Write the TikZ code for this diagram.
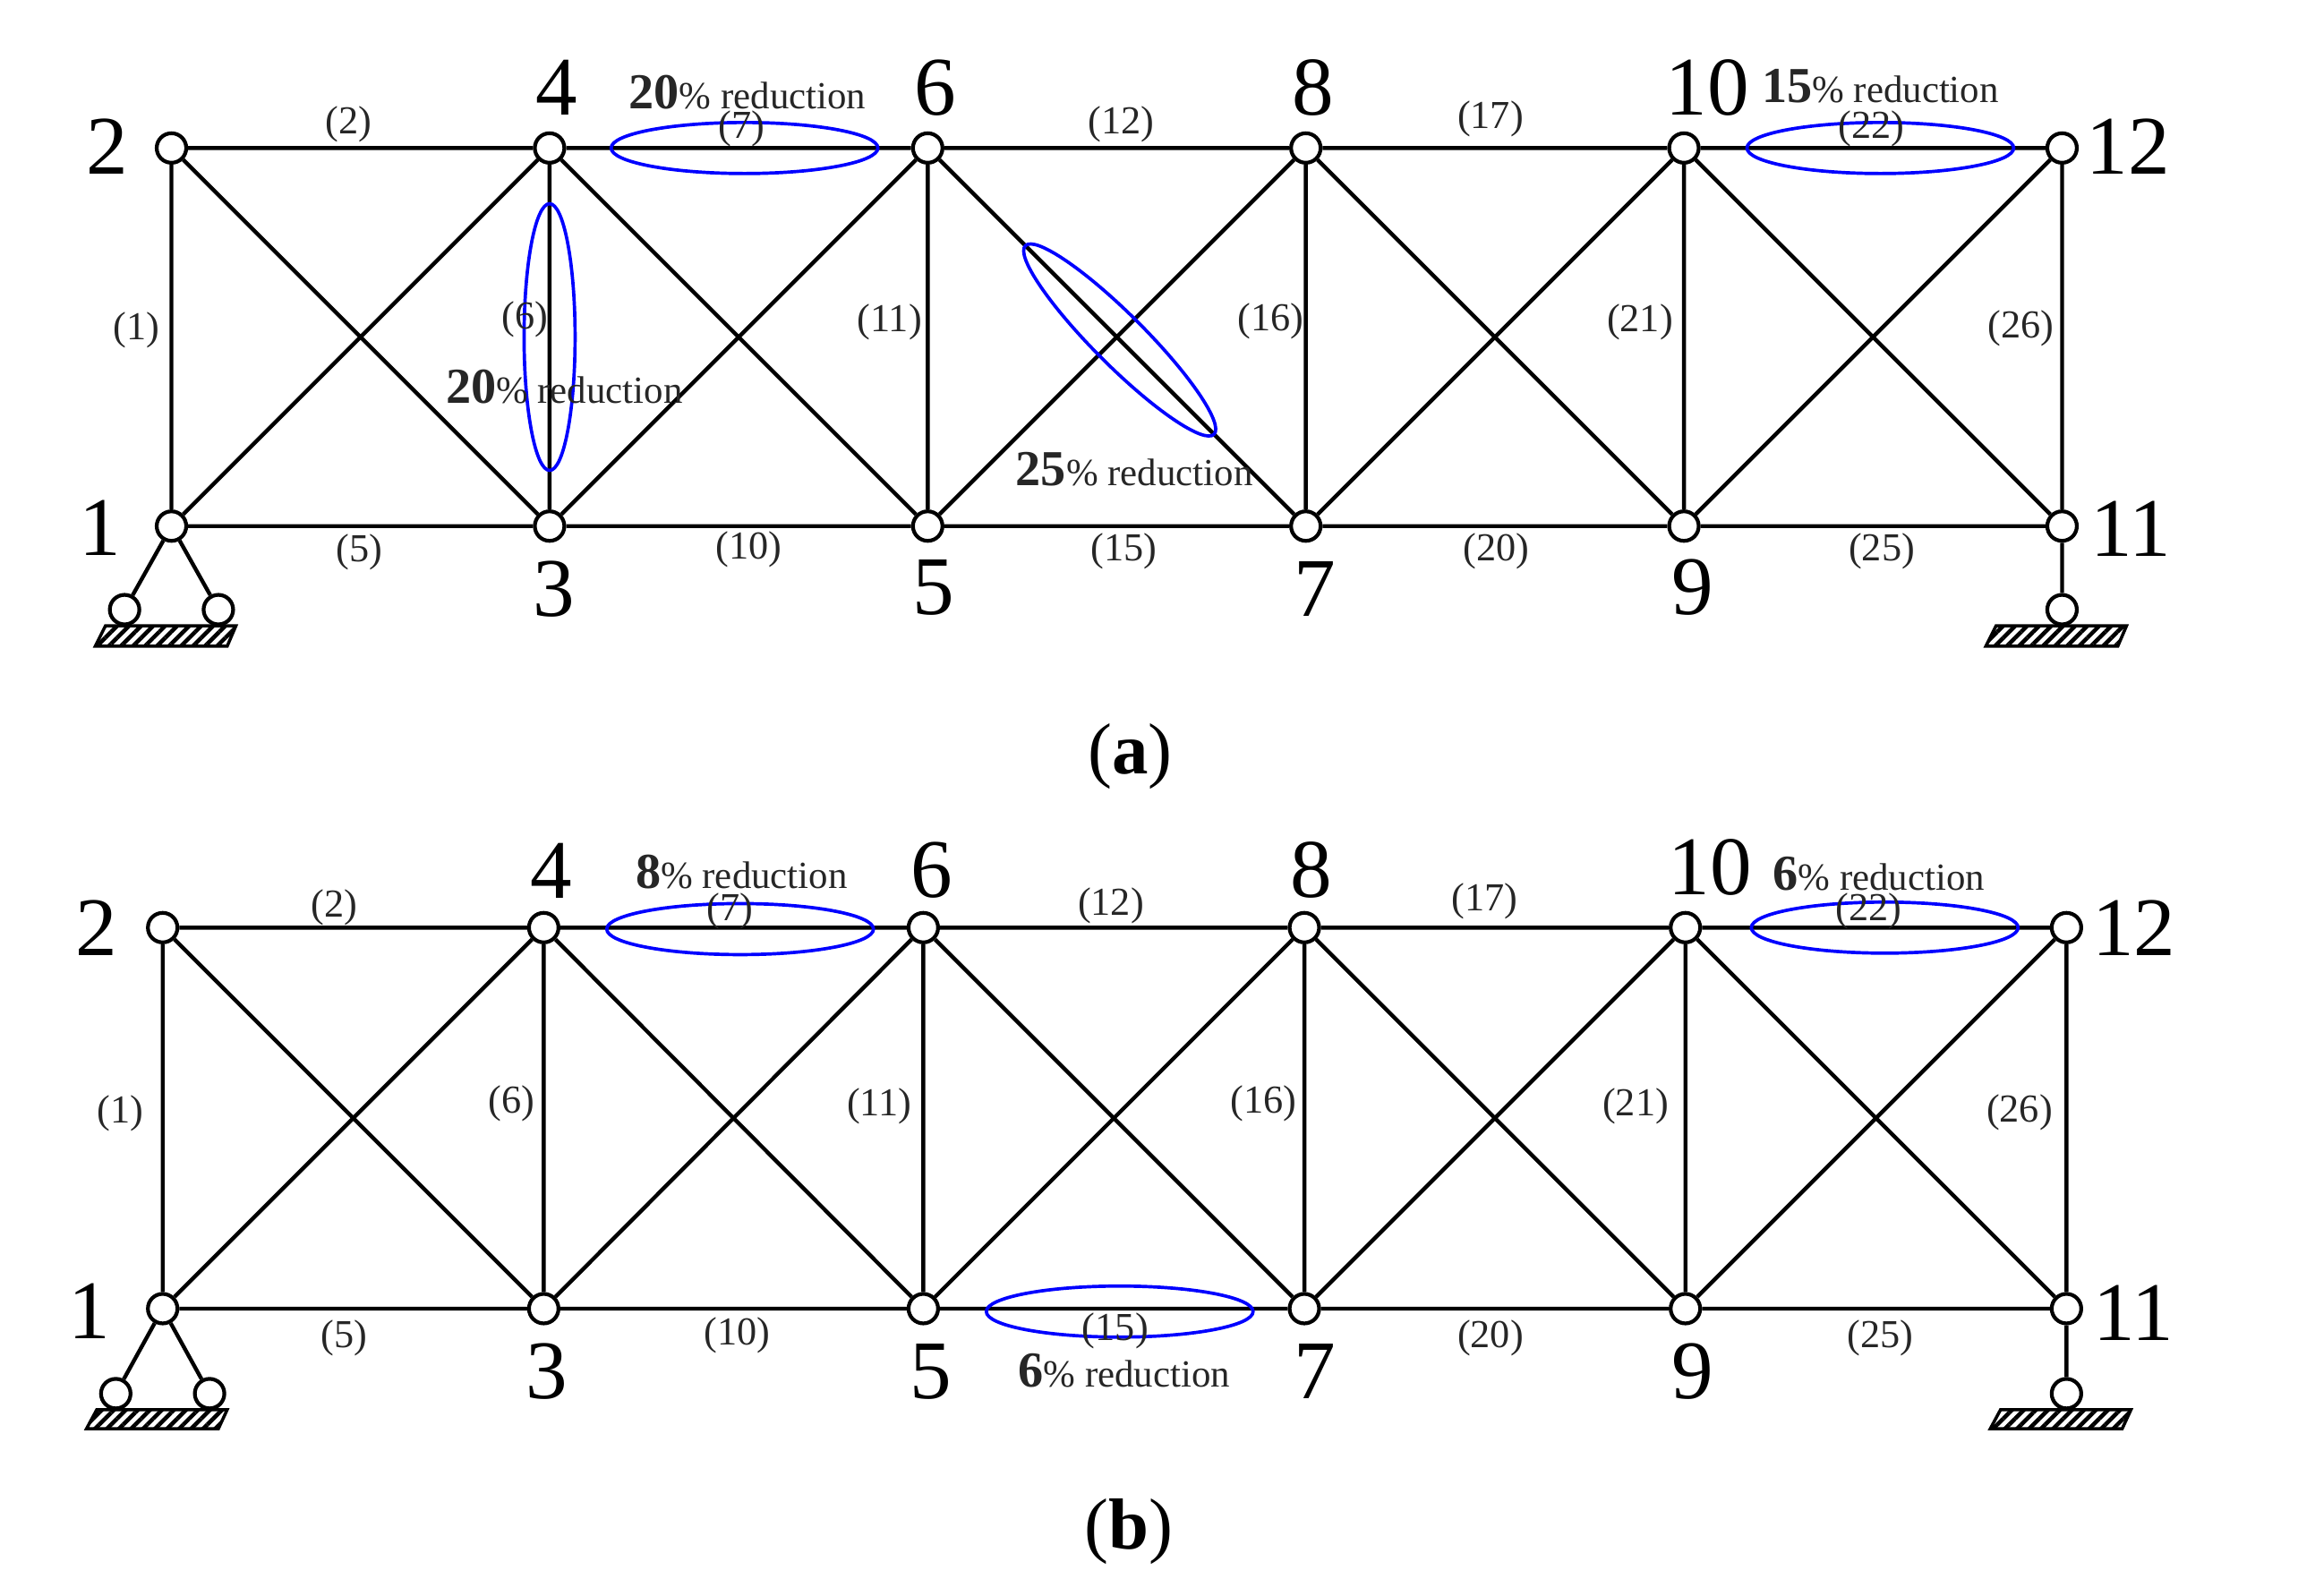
\documentclass[tikz,border=0pt]{standalone}
\usepackage{fontspec}
\setmainfont{Liberation Serif}
\usetikzlibrary{shapes.geometric,patterns.meta}
\tikzset{
	joint/.style={circle,draw,line width=1.2pt,inner sep=0pt,minimum size=0.33cm},
	member/.style={line width=1.25pt},
	jointnum/.style={inner sep=0pt,font=\fontsize{26.5}{26.5}\selectfont},
	memberlbl/.style={inner sep=0pt,text=black!85,font=\fontsize{12.6}{12.6}\selectfont},
	reduct/.style={inner sep=0pt,text=black!85,font=\fontsize{12.2}{12.2}\selectfont},
	ring/.style={ellipse,draw=blue,line width=1.05pt,inner sep=0pt,minimum width=2.98cm,minimum height=0.57cm},
	groundbar/.style={line width=1pt,fill=white,pattern={Lines[angle=45,distance=2.7pt,line width=1.3pt]}},
	caption/.style={inner sep=0pt,font=\fontsize{23}{23}\selectfont}
}
\newcommand{\bignum}[1]{{\fontsize{16}{16}\selectfont\bfseries #1}}
\begin{document}
\begin{tikzpicture}[x=0.01637cm,y=-0.01637cm]
	\useasboundingbox (0,0) rectangle (1568,1089);

	% truss (a)
	\node[joint] (a1) at (117,359) {};
	\node[joint] (a2) at (117,101) {};
	\node[joint] (a3) at (375,359) {};
	\node[joint] (a4) at (375,101) {};
	\node[joint] (a5) at (633,359) {};
	\node[joint] (a6) at (633,101) {};
	\node[joint] (a7) at (891,359) {};
	\node[joint] (a8) at (891,101) {};
	\node[joint] (a9) at (1149,359) {};
	\node[joint] (a10) at (1149,101) {};
	\node[joint] (a11) at (1407,359) {};
	\node[joint] (a12) at (1407,101) {};
	\node[joint] (aL) at (85,416) {};
	\node[joint] (aM) at (149,416) {};
	\node[joint] (aR) at (1407,416) {};

	\draw[member] (a1) -- (a2) (a1) -- (a3) (a1) -- (a4) (a2) -- (a3) (a2) -- (a4);
	\draw[member] (a3) -- (a4) (a3) -- (a5) (a3) -- (a6) (a4) -- (a5) (a4) -- (a6);
	\draw[member] (a5) -- (a6) (a5) -- (a7) (a5) -- (a8) (a6) -- (a7) (a6) -- (a8);
	\draw[member] (a7) -- (a8) (a7) -- (a9) (a7) -- (a10) (a8) -- (a9) (a8) -- (a10);
	\draw[member] (a9) -- (a10) (a9) -- (a11) (a9) -- (a12) (a10) -- (a11) (a10) -- (a12);
	\draw[member] (a11) -- (a12) (a1) -- (aL) (a1) -- (aM) (a11) -- (aR);

	\draw[groundbar] (72,427) -- (161,427) -- (155,441) -- (65,441) -- cycle;
	\draw[groundbar] (1362,427) -- (1451,427) -- (1445,441) -- (1355,441) -- cycle;

	\node[ring] (aring7) at (508,101) {};
	\node[ring] (aring22) at (1283,101) {};
	\node[ring,rotate=90] (aring6) at (375,230) {};
	\node[ring,rotate=-45] (aring13) at (764,232) {};

	\node[jointnum] (anum1) at (68,360) {1};
	\node[jointnum] (anum2) at (73,100) {2};
	\node[jointnum] (anum3) at (378,402) {3};
	\node[jointnum] (anum4) at (380,60) {4};
	\node[jointnum] (anum5) at (637,401) {5};
	\node[jointnum] (anum6) at (638,60) {6};
	\node[jointnum] (anum7) at (897,402) {7};
	\node[jointnum] (anum8) at (896,60) {8};
	\node[jointnum] (anum9) at (1155,401) {9};
	\node[jointnum] (anum10) at (1165,60) {10};
	\node[jointnum] (anum11) at (1454,361) {11};
	\node[jointnum] (anum12) at (1452,100) {12};

	\node[memberlbl] (albl1) at (93,225) {(1)};
	\node[memberlbl] (albl2) at (238,85) {(2)};
	\node[memberlbl] (albl5) at (245,377) {(5)};
	\node[memberlbl] (albl6) at (358,218) {(6)};
	\node[memberlbl] (albl7) at (506,88) {(7)};
	\node[memberlbl] (albl10) at (511,375) {(10)};
	\node[memberlbl] (albl11) at (607,220) {(11)};
	\node[memberlbl] (albl12) at (765,85) {(12)};
	\node[memberlbl] (albl15) at (767,376) {(15)};
	\node[memberlbl] (albl16) at (867,219) {(16)};
	\node[memberlbl] (albl17) at (1017,81) {(17)};
	\node[memberlbl] (albl20) at (1021,376) {(20)};
	\node[memberlbl] (albl21) at (1119,220) {(21)};
	\node[memberlbl] (albl22) at (1277,88) {(22)};
	\node[memberlbl] (albl25) at (1284,376) {(25)};
	\node[memberlbl] (albl26) at (1379,224) {(26)};

	\node[reduct] (ared7) at (510,63) {\bignum{20}\% reduction};
	\node[reduct] (ared6) at (385,264) {\bignum{20}\% reduction};
	\node[reduct] (ared13) at (774,320) {\bignum{25}\% reduction};
	\node[reduct] (ared22) at (1283,59) {\bignum{15}\% reduction};

	\node[caption] (acap) at (771,516) {(\textbf{a})};

	% truss (b)
	\node[joint] (b1) at (111,893) {};
	\node[joint] (b2) at (111,633) {};
	\node[joint] (b3) at (371,893) {};
	\node[joint] (b4) at (371,633) {};
	\node[joint] (b5) at (630,893) {};
	\node[joint] (b6) at (630,633) {};
	\node[joint] (b7) at (890,893) {};
	\node[joint] (b8) at (890,633) {};
	\node[joint] (b9) at (1150,893) {};
	\node[joint] (b10) at (1150,633) {};
	\node[joint] (b11) at (1410,893) {};
	\node[joint] (b12) at (1410,633) {};
	\node[joint] (bL) at (79,951) {};
	\node[joint] (bM) at (143,951) {};
	\node[joint] (bR) at (1410,951) {};

	\draw[member] (b1) -- (b2) (b1) -- (b3) (b1) -- (b4) (b2) -- (b3) (b2) -- (b4);
	\draw[member] (b3) -- (b4) (b3) -- (b5) (b3) -- (b6) (b4) -- (b5) (b4) -- (b6);
	\draw[member] (b5) -- (b6) (b5) -- (b7) (b5) -- (b8) (b6) -- (b7) (b6) -- (b8);
	\draw[member] (b7) -- (b8) (b7) -- (b9) (b7) -- (b10) (b8) -- (b9) (b8) -- (b10);
	\draw[member] (b9) -- (b10) (b9) -- (b11) (b9) -- (b12) (b10) -- (b11) (b10) -- (b12);
	\draw[member] (b11) -- (b12) (b1) -- (bL) (b1) -- (bM) (b11) -- (bR);

	\draw[groundbar] (66,962) -- (155,962) -- (149,975) -- (59,975) -- cycle;
	\draw[groundbar] (1365,962) -- (1454,962) -- (1448,975) -- (1358,975) -- cycle;

	\node[ring] (bring7) at (505,634) {};
	\node[ring] (bring22) at (1286,633) {};
	\node[ring] (bring15) at (764,895) {};

	\node[jointnum] (bnum1) at (61,895) {1};
	\node[jointnum] (bnum2) at (66,633) {2};
	\node[jointnum] (bnum3) at (373,936) {3};
	\node[jointnum] (bnum4) at (376,594) {4};
	\node[jointnum] (bnum5) at (635,936) {5};
	\node[jointnum] (bnum6) at (636,594) {6};
	\node[jointnum] (bnum7) at (897,936) {7};
	\node[jointnum] (bnum8) at (895,594) {8};
	\node[jointnum] (bnum9) at (1155,936) {9};
	\node[jointnum] (bnum10) at (1167,592) {10};
	\node[jointnum] (bnum11) at (1456,896) {11};
	\node[jointnum] (bnum12) at (1456,633) {12};

	\node[memberlbl] (blbl1) at (82,760) {(1)};
	\node[memberlbl] (blbl2) at (228,619) {(2)};
	\node[memberlbl] (blbl5) at (235,913) {(5)};
	\node[memberlbl] (blbl6) at (349,753) {(6)};
	\node[memberlbl] (blbl7) at (498,622) {(7)};
	\node[memberlbl] (blbl10) at (503,911) {(10)};
	\node[memberlbl] (blbl11) at (600,755) {(11)};
	\node[memberlbl] (blbl12) at (758,618) {(12)};
	\node[memberlbl] (blbl15) at (761,908) {(15)};
	\node[memberlbl] (blbl16) at (862,753) {(16)};
	\node[memberlbl] (blbl17) at (1013,615) {(17)};
	\node[memberlbl] (blbl20) at (1017,913) {(20)};
	\node[memberlbl] (blbl21) at (1116,755) {(21)};
	\node[memberlbl] (blbl22) at (1275,622) {(22)};
	\node[memberlbl] (blbl25) at (1283,913) {(25)};
	\node[memberlbl] (blbl26) at (1378,759) {(26)};

	\node[reduct] (bred7) at (506,595) {\bignum{8}\% reduction};
	\node[reduct] (bred22) at (1282,596) {\bignum{6}\% reduction};
	\node[reduct] (bred15) at (767,935) {\bignum{6}\% reduction};

	\node[caption] (bcap) at (770,1045) {(\textbf{b})};
\end{tikzpicture}
\end{document}
